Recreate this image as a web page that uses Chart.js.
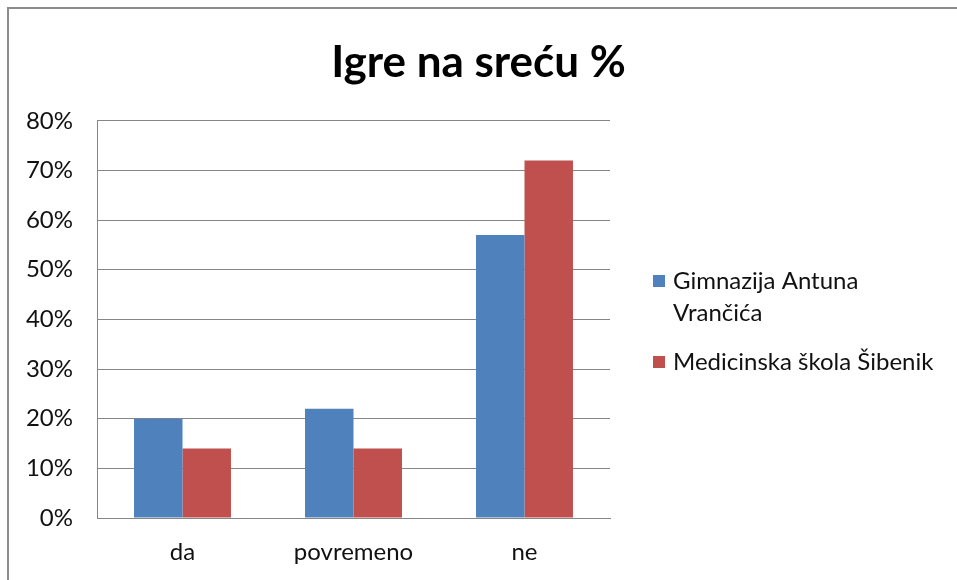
<!DOCTYPE html>
<html>
<head>
<meta charset="utf-8">
<script src="https://cdn.jsdelivr.net/npm/chart.js@4"></script>
<style>
	html, body { margin: 0; padding: 0; background: #fff; }
	#wrap { position: relative; width: 957px; height: 580px; }
</style>
</head>
<body>
<div id="wrap"><canvas id="igreChart"></canvas></div>
<script>
// 데이터
const categories = ['da', 'povremeno', 'ne'];
const gimnazija = [20, 22, 57];
const medicinska = [14, 14, 72];
const seriesNames = [['Gimnazija Antuna', 'Vrančića'], ['Medicinska škola Šibenik']];
const seriesColors = ['#4F81BD', '#C0504D'];
const yTicks = [0, 10, 20, 30, 40, 50, 60, 70, 80];

const FONT = 'Lato, "Open Sans", sans-serif';

// 바깥 테두리 (왼쪽, 위)
const frame = {
	id: 'frame',
	beforeDraw(chart) {
		const ctx = chart.ctx;
		ctx.save();
		ctx.fillStyle = '#fff';
		ctx.fillRect(0, 0, chart.width, chart.height);
		ctx.strokeStyle = '#8c8c8c';
		ctx.lineWidth = 2;
		ctx.beginPath();
		ctx.moveTo(8, chart.height);
		ctx.lineTo(8, 8);
		ctx.lineTo(chart.width, 8);
		ctx.stroke();
		ctx.restore();
	}
};

// 오른쪽 범례 (줄바꿈 있음)
const sideLegend = {
	id: 'sideLegend',
	afterDraw(chart) {
		const ctx = chart.ctx;
		const x0 = chart.chartArea.right + 43;
		const rows = [281, 362];
		ctx.save();
		ctx.font = '24px ' + FONT;
		ctx.textBaseline = 'middle';
		seriesNames.forEach((lines, i) => {
			ctx.fillStyle = seriesColors[i];
			ctx.fillRect(x0, rows[i] - 6, 12, 12);
			ctx.fillStyle = '#111';
			lines.forEach((t, j) => {
				ctx.fillText(t, x0 + 20, rows[i] + j * 32);
			});
		});
		ctx.restore();
	}
};

new Chart(document.getElementById('igreChart'), {
	type: 'bar',
	data: {
		labels: categories,
		datasets: [
			{ label: seriesNames[0].join(' '), data: gimnazija, backgroundColor: seriesColors[0] },
			{ label: seriesNames[1].join(' '), data: medicinska, backgroundColor: seriesColors[1] }
		]
	},
	options: {
		responsive: true,
		maintainAspectRatio: false,
		animation: false,
		layout: { padding: { top: 9, right: 0, bottom: 0, left: 0 } },
		datasets: { bar: { categoryPercentage: 0.567, barPercentage: 1 } },
		plugins: {
			legend: { display: false },
			tooltip: { enabled: false },
			title: {
				display: true,
				text: 'Igre na sreću %',
				color: '#000',
				font: { family: FONT, size: 44, weight: 'bold', lineHeight: 1.2 },
				padding: { top: 27, bottom: 32 }
			}
		},
		scales: {
			x: {
				grid: { display: false, drawTicks: false },
				border: { display: true, color: '#868686', width: 1 },
				ticks: { color: '#111', padding: 20, font: { family: FONT, size: 24 } },
				afterFit(scale) { scale.height = 62; }
			},
			y: {
				min: 0,
				max: 80,
				afterBuildTicks(scale) { scale.ticks = yTicks.map(v => ({ value: v })); },
				grid: { color: '#868686', drawTicks: false },
				border: { display: true, color: '#868686', width: 1 },
				ticks: {
					color: '#111',
					padding: 24,
					font: { family: FONT, size: 24 },
					callback: v => v + '%'
				},
				afterFit(scale) { scale.width = 97; }
			},
			// 오른쪽 범례 자리
			legendSpace: {
				type: 'linear',
				position: 'right',
				grid: { display: false, drawTicks: false },
				border: { display: false },
				ticks: { display: false },
				afterFit(scale) { scale.width = 347; }
			}
		}
	},
	plugins: [frame, sideLegend]
});
</script>
</body>
</html>
